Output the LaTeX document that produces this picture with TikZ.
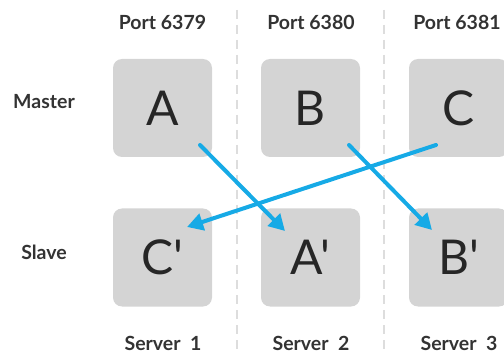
\documentclass[tikz,border=0pt]{standalone}
\usepackage{fontspec}
\setmainfont{Lato}
\newfontfamily\cellfont{Lato}[Ligatures=TeXOff]
\usetikzlibrary{arrows.meta}
\definecolor{boxgray}{HTML}{D4D4D4}
\definecolor{txt}{HTML}{333333}
\definecolor{arrowblue}{HTML}{16AAE6}
\definecolor{sep}{HTML}{DDDDDD}
\tikzset{
  cell/.style={fill=boxgray, rounded corners=9pt, minimum width=99pt, minimum height=98pt, inner sep=0pt, text=black!85, font=\cellfont\fontsize{48}{48}\selectfont},
  lbl/.style={text=txt, font=\bfseries\fontsize{19.5}{20}\selectfont, inner sep=0pt},
  sepline/.style={draw=sep, line width=2pt, dash pattern=on 9pt off 6pt},
  link/.style={draw=arrowblue, line width=4pt, line cap=round, -{Triangle[length=16pt,width=17pt]}}
}
\begin{document}
\begin{tikzpicture}[x=1pt,y=1pt]
\useasboundingbox (0,0) rectangle (504,354);
% separators
\coordinate (s1t) at (237,344); \coordinate (s1b) at (237,0);
\coordinate (s2t) at (384,344); \coordinate (s2b) at (384,0);
\draw[sepline] (s1t) -- (s1b);
\draw[sepline] (s2t) -- (s2b);
% boxes
\node[cell] (A) at (162.5,246) {A};
\node[cell] (B) at (310.5,246) {B};
\node[cell] (C) at (458.5,246) {C};
\node[cell] (Cp) at (162.5,96.5) {C'};
\node[cell] (Ap) at (310.5,96.5) {A'};
\node[cell] (Bp) at (458.5,96.5) {B'};
% labels
\node[lbl] (p1) at (162.5,332) {Port 6379};
\node[lbl] (p2) at (311,332) {Port 6380};
\node[lbl] (p3) at (457,332) {Port 6381};
\node[lbl] (m) at (44,252) {Master};
\node[lbl] (s) at (44,102) {Slave};
\node[lbl] (v1) at (163,11) {Server~~1};
\node[lbl] (v2) at (311,11) {Server~~2};
\node[lbl] (v3) at (459,11) {Server~~3};
% arrows
\draw[link] ([shift={(37.5pt,-37pt)}]A.center) -- ([shift={(-25.5pt,26.5pt)}]Ap.center);
\draw[link] ([shift={(38.5pt,-37pt)}]B.center) -- ([shift={(-26.5pt,27.5pt)}]Bp.center);
\draw[link] ([shift={(-22.5pt,-37pt)}]C.center) -- ([shift={(24.5pt,30.5pt)}]Cp.center);
\end{tikzpicture}
\end{document}
